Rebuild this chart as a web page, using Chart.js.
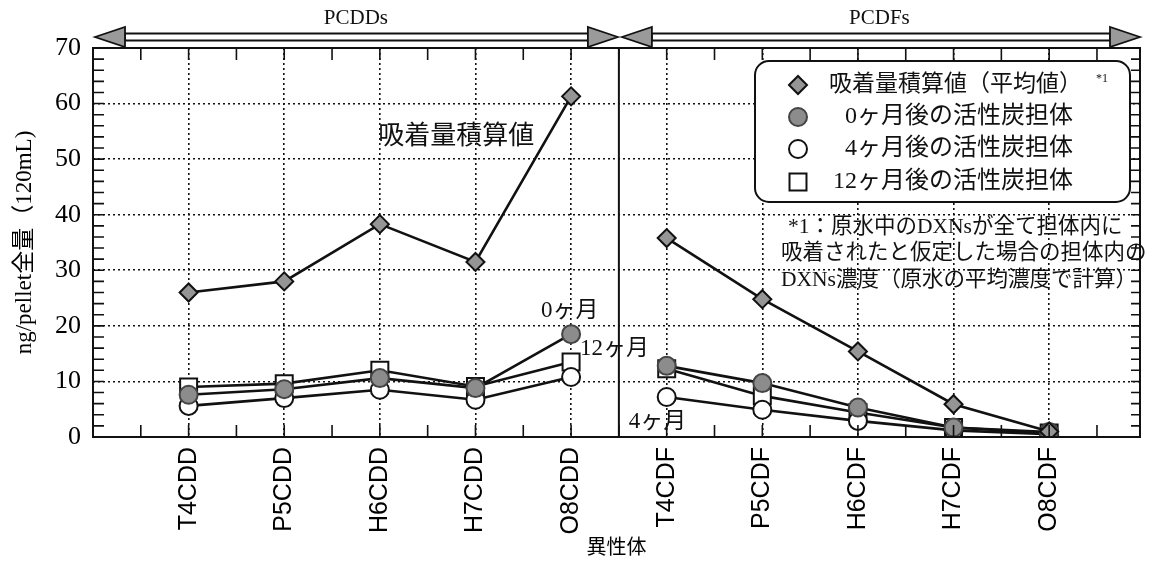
<!DOCTYPE html>
<html>
<head>
<meta charset="utf-8">
<script src="https://cdn.jsdelivr.net/npm/chart.js@4.4.0/dist/chart.umd.min.js"></script>
<style>
html, body { margin: 0; padding: 0; background: #fff; }
#wrap { width: 1154px; height: 563px; }
</style>
</head>
<body>
<div id="wrap"><canvas id="grafico"></canvas></div>
<script>
// datos
const categorias = ["T4CDD", "P5CDD", "H6CDD", "H7CDD", "O8CDD", "T4CDF", "P5CDF", "H6CDF", "H7CDF", "O8CDF"];
const acumulado = [26.0, 28.0, 38.3, 31.5, 61.3, 35.8, 24.8, 15.4, 5.9, 1.0];
const mes0 = [7.6, 8.6, 10.6, 8.8, 18.5, 12.8, 9.7, 5.3, 1.7, 0.9];
const mes4 = [5.6, 7.0, 8.5, 6.7, 10.8, 7.2, 4.9, 2.9, 1.2, 0.5];
const mes12 = [9.0, 9.6, 12.0, 9.1, 13.5, 12.3, 7.4, 4.4, 1.7, 0.7];
const etiquetasY = [0, 10, 20, 30, 40, 50, 60, 70];
const leyenda = ["吸着量積算値（平均値）", "0ヶ月後の活性炭担体", "4ヶ月後の活性炭担体", "12ヶ月後の活性炭担体"];
const nota = ["*1：原水中のDXNsが全て担体内に", "吸着されたと仮定した場合の担体内の", "DXNs濃度（原水の平均濃度で計算）"];

const serif = '"Liberation Serif", "Noto Sans CJK JP", serif';
const sans = '"Liberation Sans", "Noto Sans CJK JP", sans-serif';

// no unir PCDDs con PCDFs
const corte = { borderColor: c => c.p0DataIndex === 4 ? 'rgba(0,0,0,0)' : undefined };
const puntos = arr => arr.map((v, i) => ({ x: i, y: v }));

function serie(label, valores, estilo, radio, relleno, borde) {
  return {
    label: label,
    data: puntos(valores),
    borderColor: '#111',
    borderWidth: 2.6,
    pointStyle: estilo,
    pointRadius: radio,
    pointHoverRadius: radio,
    pointBackgroundColor: relleno,
    pointBorderColor: borde,
    pointBorderWidth: 2,
    segment: corte
  };
}

function flecha(ctx, x1, x2, y) {
  const L = 30, H = 10, S = 3.5;
  ctx.save();
  ctx.lineWidth = 1.8;
  ctx.strokeStyle = '#111';
  ctx.fillStyle = '#fff';
  ctx.beginPath();
  ctx.rect(x1 + L, y - S, x2 - x1 - 2 * L, 2 * S);
  ctx.fill();
  ctx.stroke();
  ctx.fillStyle = '#9a9a9a';
  ctx.beginPath();
  ctx.moveTo(x1, y); ctx.lineTo(x1 + L, y - H); ctx.lineTo(x1 + L, y + H); ctx.closePath();
  ctx.fill(); ctx.stroke();
  ctx.beginPath();
  ctx.moveTo(x2, y); ctx.lineTo(x2 - L, y - H); ctx.lineTo(x2 - L, y + H); ctx.closePath();
  ctx.fill(); ctx.stroke();
  ctx.restore();
}

const extras = {
  id: 'extras',
  afterDraw(chart) {
    const ctx = chart.ctx;
    const a = chart.chartArea;
    const sx = chart.scales.x, sy = chart.scales.y;
    ctx.save();
    ctx.strokeStyle = '#111';

    // marco
    ctx.lineWidth = 2;
    ctx.strokeRect(a.left, a.top, a.right - a.left, a.bottom - a.top);

    // linea divisoria
    const xm = sx.getPixelForValue(4.5);
    ctx.beginPath(); ctx.moveTo(xm, a.top); ctx.lineTo(xm, a.bottom); ctx.stroke();

    // marcas hacia dentro
    ctx.lineWidth = 1.6;
    for (let v = 2; v < 70; v += 2) {
      const y = sy.getPixelForValue(v);
      ctx.beginPath();
      ctx.moveTo(a.left, y); ctx.lineTo(a.left + 11, y);
      ctx.moveTo(a.right, y); ctx.lineTo(a.right - 9, y);
      ctx.stroke();
    }
    for (let v = -0.5; v < 10; v += 0.5) {
      const x = sx.getPixelForValue(v);
      ctx.beginPath();
      ctx.moveTo(x, a.top); ctx.lineTo(x, a.top + 12);
      ctx.moveTo(x, a.bottom); ctx.lineTo(x, a.bottom - 12);
      ctx.stroke();
    }

    // flechas superiores
    flecha(ctx, a.left + 2, xm - 1, 37);
    flecha(ctx, xm + 3, a.right, 37);
    ctx.fillStyle = '#111';
    ctx.textAlign = 'center';
    ctx.textBaseline = 'middle';
    ctx.font = '21px ' + serif;
    ctx.fillText('PCDDs', (a.left + xm) / 2, 18);
    ctx.fillText('PCDFs', (xm + a.right) / 2, 18);

    // leyenda
    const bx = 755, by = 61, bw = 375, bh = 141;
    ctx.lineWidth = 2;
    ctx.fillStyle = '#fff';
    ctx.beginPath();
    ctx.roundRect(bx, by, bw, bh, 14);
    ctx.fill(); ctx.stroke();
    const filas = [85, 117, 149, 182];
    chart.data.datasets.forEach((ds, i) => {
      ctx.save();
      ctx.fillStyle = ds.pointBackgroundColor;
      ctx.strokeStyle = ds.pointBorderColor;
      ctx.lineWidth = 2;
      Chart.helpers.drawPoint(ctx, { pointStyle: ds.pointStyle, radius: ds.pointRadius, rotation: 0, borderWidth: 2 }, 798, filas[i]);
      ctx.restore();
    });
    ctx.fillStyle = '#111';
    ctx.textBaseline = 'middle';
    ctx.font = '23px ' + serif;
    ctx.textAlign = 'left';
    ctx.fillText(leyenda[0], 829, filas[0]);
    ctx.font = '24px ' + serif;
    ctx.textAlign = 'right';
    for (let i = 1; i < 4; i++) ctx.fillText(leyenda[i], 1073, filas[i]);
    ctx.textAlign = 'left';
    ctx.font = '12px ' + serif;
    ctx.fillText('*1', 1096, filas[0] - 6);

    // nota
    ctx.font = '21.5px ' + serif;
    ctx.fillText(nota[0], 788, 227);
    ctx.fillText(nota[1], 781, 253);
    ctx.fillText(nota[2], 781, 280);

    // anotaciones
    ctx.font = '26px ' + serif;
    ctx.textAlign = 'center';
    ctx.fillText('吸着量積算値', sx.getPixelForValue(2.8), sy.getPixelForValue(54));
    ctx.font = '23px ' + serif;
    ctx.textAlign = 'left';
    ctx.fillText('0ヶ月', sx.getPixelForValue(4) - 30, sy.getPixelForValue(22.6));
    ctx.fillText('12ヶ月', sx.getPixelForValue(4) + 9, sy.getPixelForValue(15.9));
    ctx.fillText('4ヶ月', sx.getPixelForValue(5) - 38, sy.getPixelForValue(2.7));
    ctx.restore();
  }
};

new Chart(document.getElementById('grafico').getContext('2d'), {
  type: 'line',
  data: {
    datasets: [
      serie(leyenda[0], acumulado, 'rectRot', 9, '#959595', '#111'),
      serie(leyenda[1], mes0, 'circle', 9, '#8c8c8c', '#444'),
      serie(leyenda[2], mes4, 'circle', 9, '#fff', '#111'),
      serie(leyenda[3], mes12, 'rect', 12, '#fff', '#111')
    ]
  },
  options: {
    responsive: true,
    maintainAspectRatio: false,
    animation: false,
    layout: { padding: { top: 48, right: 4, left: 0, bottom: 0 } },
    plugins: { legend: { display: false }, tooltip: { enabled: false } },
    scales: {
      x: {
        type: 'linear',
        min: -1,
        max: 9.95,
        afterBuildTicks: s => { s.ticks = categorias.map((c, i) => ({ value: i })); },
        afterFit: s => { s.height = 126; },
        ticks: {
          callback: v => categorias[v],
          minRotation: 90,
          maxRotation: 90,
          autoSkip: false,
          padding: 10,
          color: '#000',
          font: { family: sans, size: 25 }
        },
        grid: { color: '#111', lineWidth: 1.6, drawTicks: false },
        border: { display: false, dash: [2, 3] },
        title: { display: true, text: '異性体', color: '#000', font: { family: sans, size: 20 }, padding: { top: 0, bottom: 3 } }
      },
      y: {
        min: 0,
        max: 70,
        afterBuildTicks: s => { s.ticks = etiquetasY.map(v => ({ value: v })); },
        afterFit: s => { s.width = 93; },
        ticks: { color: '#000', padding: 12, font: { family: serif, size: 26 } },
        grid: { color: '#111', lineWidth: 1.6, drawTicks: false },
        border: { display: false, dash: [2, 3] },
        title: { display: true, text: 'ng/pellet全量（120mL)', color: '#000', font: { family: serif, size: 23 }, padding: { top: 11, bottom: 0 } }
      }
    }
  },
  plugins: [extras]
});
</script>
</body>
</html>
